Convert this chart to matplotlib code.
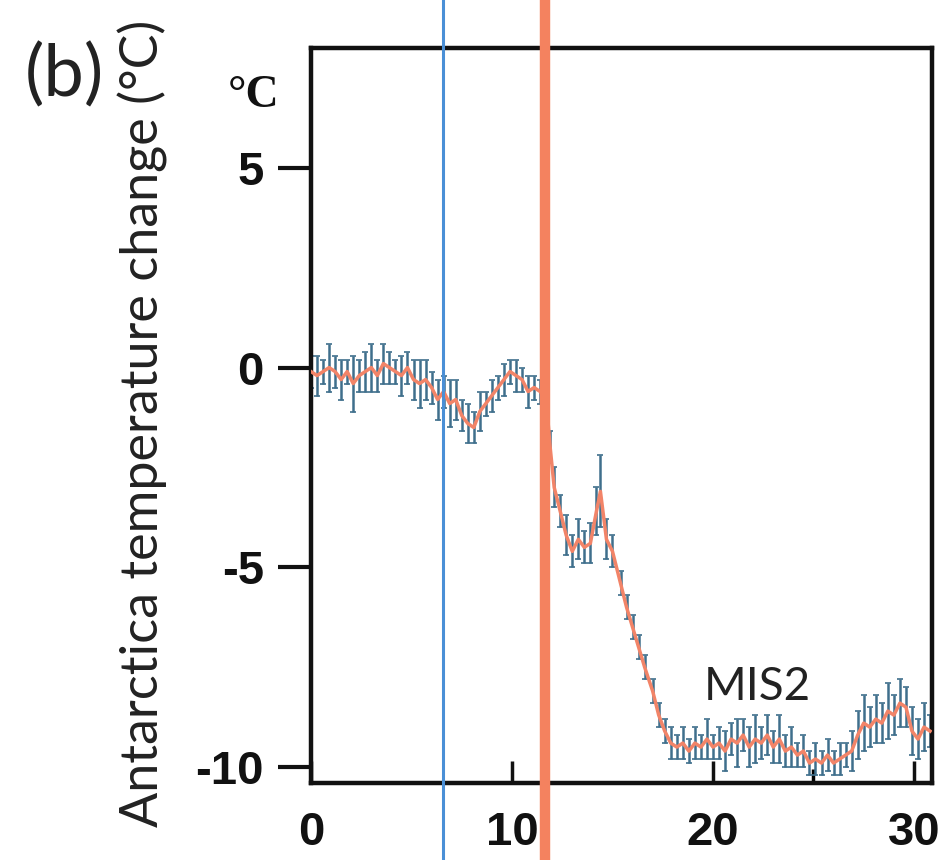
import matplotlib
matplotlib.use("Agg")
import matplotlib.pyplot as plt

plt.rcParams['axes.unicode_minus'] = False

# age (ka) and Antarctic temperature change (deg C)
ages = [0.0, 0.3, 0.6, 0.9, 1.2, 1.5, 1.8, 2.1, 2.4, 2.7, 3.0, 3.3, 3.6, 3.9,
        4.2, 4.5, 4.8, 5.1, 5.4, 5.7, 6.0, 6.3, 6.6, 6.9, 7.2, 7.5, 7.8, 8.1,
        8.4, 8.7, 9.0, 9.3, 9.6, 9.9, 10.2, 10.5, 10.8, 11.1, 11.4, 11.7,
        11.9, 12.1, 12.4, 12.7, 13.0, 13.3, 13.6, 13.9, 14.2, 14.4, 14.7,
        15.0, 15.4, 15.7, 16.0, 16.3, 16.6, 17.0, 17.3, 17.6, 17.9, 18.2,
        18.5, 18.8, 19.1, 19.4, 19.7, 20.0, 20.3, 20.6, 20.9, 21.2, 21.5,
        21.8, 22.1, 22.4, 22.7, 23.0, 23.3, 23.6, 23.9, 24.2, 24.5, 24.8,
        25.1, 25.4, 25.7, 26.0, 26.3, 26.6, 26.9, 27.2, 27.5, 27.8, 28.1,
        28.4, 28.7, 29.0, 29.3, 29.6, 29.9, 30.2, 30.5, 30.8]
temps = [-0.1, -0.2, -0.1, 0.0, -0.1, -0.3, -0.1, -0.4, -0.2, -0.1, 0.0, -0.2,
         0.1, 0.0, -0.1, -0.2, 0.0, -0.3, -0.4, -0.3, -0.5, -0.8, -0.6, -0.9,
         -0.8, -1.2, -1.4, -1.5, -1.1, -0.9, -0.7, -0.5, -0.3, -0.1, -0.2,
         -0.3, -0.6, -0.5, -0.6, -0.8,
         -2.0, -3.0, -3.6, -4.2, -4.6, -4.3, -4.5, -4.4, -3.6, -3.1, -4.3,
         -4.6, -5.4, -6.0, -6.5, -7.0, -7.5, -8.1, -8.7, -9.1, -9.4, -9.5,
         -9.4, -9.6, -9.4, -9.5, -9.3, -9.5, -9.4, -9.6, -9.3, -9.4, -9.2,
         -9.5, -9.3, -9.4, -9.2, -9.5, -9.3, -9.6, -9.5, -9.7, -9.6, -9.9,
         -9.8, -9.9, -9.7, -9.9, -9.8, -9.7, -9.6, -9.2, -8.9, -9.0, -8.8,
         -8.9, -8.6, -8.7, -8.4, -8.5, -9.1, -9.3, -9.0, -9.1]
errs = [0.4, 0.5, 0.3, 0.6, 0.4, 0.5, 0.3, 0.7, 0.4, 0.5, 0.6, 0.4,
        0.5, 0.4, 0.3, 0.5, 0.4, 0.5, 0.6, 0.5, 0.4, 0.5, 0.4, 0.6,
        0.5, 0.4, 0.5, 0.4, 0.5, 0.3, 0.4, 0.3, 0.4, 0.3, 0.4,
        0.3, 0.4, 0.3, 0.3, 0.3,
        0.4, 0.5, 0.4, 0.5, 0.4, 0.5, 0.4, 0.5, 0.6, 0.9, 0.5,
        0.4, 0.3, 0.3, 0.3, 0.3, 0.3, 0.3, 0.3, 0.3, 0.4, 0.3,
        0.4, 0.3, 0.4, 0.3, 0.5, 0.3, 0.4, 0.5, 0.4, 0.6, 0.4,
        0.5, 0.6, 0.4, 0.5, 0.4, 0.6, 0.4, 0.5, 0.3, 0.4, 0.3,
        0.4, 0.3, 0.4, 0.3, 0.4, 0.3, 0.5, 0.6, 0.7, 0.5, 0.6,
        0.5, 0.7, 0.5, 0.6, 0.5, 0.6, 0.5, 0.6, 0.4]

blue_age = 6.58
red_age = 11.66
x_ticks = [0, 10, 20, 30]
y_ticks = [5, 0, -5, -10]

fig = plt.figure(figsize=(9.41, 8.6), dpi=100)
ax = fig.add_axes([0.3305, 0.0895, 0.66, 0.8547])

ax.errorbar(ages, temps, yerr=errs, fmt='none', ecolor='#3f6f8c',
            elinewidth=1.8, capsize=2, capthick=1.2, zorder=2)
ax.plot(ages, temps, color='#f28468', lw=2.5, zorder=3)

ax.axvline(blue_age, ymin=-0.12, ymax=1.08, clip_on=False,
           color='#4a8fd6', lw=2.2, zorder=4)
ax.axvline(red_age, ymin=-0.12, ymax=1.08, clip_on=False,
           color='#f4825f', lw=7.5, zorder=4)

ax.set_xlim(0, 30.9)
ax.set_ylim(-10.4, 8.0)

for s in ax.spines.values():
    s.set_linewidth(3.2)
    s.set_color('#111')

ax.set_xticks(x_ticks)
ax.set_xticks([25], minor=True)
ax.set_yticks(y_ticks)
ax.tick_params(axis='x', direction='in', length=16, width=2.5, pad=20,
               labelsize=34, colors='#111')
ax.tick_params(axis='x', which='minor', direction='in', length=10, width=2.5)
ax.tick_params(axis='y', direction='out', length=24, width=3, pad=10,
               labelsize=34, colors='#111')
for lab in ax.get_xticklabels() + ax.get_yticklabels():
    lab.set_fontfamily('Liberation Sans')
    lab.set_fontweight('bold')

ax.text(22.2, -8.0, 'MIS2', fontsize=33, family='Lato', ha='center',
        va='center', color='#222')

fig.text(0.152, 0.508, 'Antarctica temperature change (°C)', rotation=90,
         ha='center', va='center', fontsize=37.5, family='Lato', color='#222')
fig.text(0.068, 0.912, '(b)', ha='center', va='center', fontsize=52,
         family='Lato', color='#222')
fig.text(0.269, 0.888, '°C', ha='center', va='center', fontsize=33,
         family='Liberation Serif', weight='bold', color='#111')

fig.savefig('out.png', dpi=100)
